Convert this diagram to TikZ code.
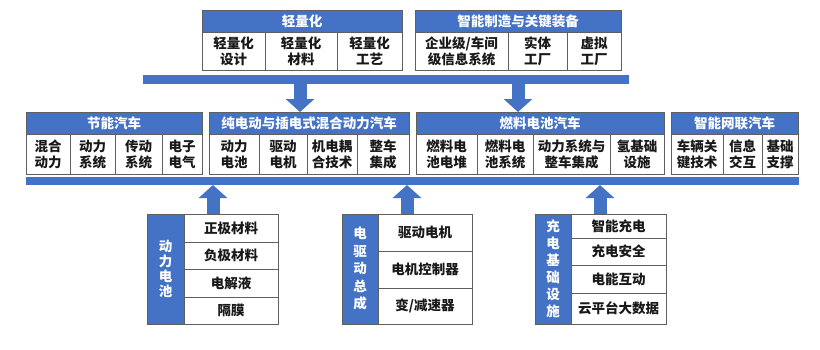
\documentclass[tikz,border=0pt]{standalone}
\usepackage{fontspec}
\newfontfamily\cjk{Noto Sans CJK SC}
\usetikzlibrary{arrows.meta,calc}
\definecolor{mblue}{HTML}{4472C4}
\definecolor{mgray}{HTML}{5F5F5F}
\tikzset{
 base/.style={draw=mgray, line width=0.9pt, inner sep=0pt, outer sep=0pt, align=center, rectangle},
 hdr/.style={base, fill=mblue, text=white, font=\cjk\bfseries\fontsize{13.5}{15}\selectfont},
 cell/.style={base, fill=white, text=black!90, font=\cjk\bfseries\fontsize{13.5}{16}\selectfont},
 sidecol/.style={base, fill=mblue, text=white, font=\cjk\bfseries\fontsize{13.5}{#1}\selectfont},
 bar/.style={fill=mblue, draw=none, inner sep=0pt, outer sep=0pt, rectangle},
 bigarrow/.style={draw=mblue, line width=13pt, -{Triangle[width=28pt,length=13pt]}},
}
\newcommand\boxat[7]{\node[#1, minimum width={(#5-#3)*1pt}, minimum height={(#6-#4)*1pt}] (#2) at ({(#3+#5)/2},{(#4+#6)/2}) {#7};}
\begin{document}
\begin{tikzpicture}[x=1pt,y=-1pt]
\fill[white] (0,0) rectangle (820,349);
\useasboundingbox (0,0) rectangle (820,349);
% top row
\boxat{hdr}{lwh}{202}{10}{402}{32}{轻量化}
\boxat{cell}{lw1}{202}{32}{265}{70}{轻量化\\设计}
\boxat{cell}{lw2}{265}{32}{337}{70}{轻量化\\材料}
\boxat{cell}{lw3}{337}{32}{402}{70}{轻量化\\工艺}
\boxat{hdr}{imh}{415}{10}{621}{32}{智能制造与关键装备}
\boxat{cell}{im1}{415}{32}{508}{70}{企业级/车间\\级信息系统}
\boxat{cell}{im2}{508}{32}{567}{70}{实体\\工厂}
\boxat{cell}{im3}{567}{32}{621}{70}{虚拟\\工厂}
% top bar
\boxat{bar}{topbar}{143}{75}{629}{84}{}
% middle row
\boxat{hdr}{jnh}{26}{112}{202}{134}{节能汽车}
\boxat{cell}{jn1}{26}{134}{70}{174}{混合\\动力}
\boxat{cell}{jn2}{70}{134}{115}{174}{动力\\系统}
\boxat{cell}{jn3}{115}{134}{162}{174}{传动\\系统}
\boxat{cell}{jn4}{162}{134}{202}{174}{电子\\电气}
\boxat{hdr}{evh}{209}{112}{409}{134}{纯电动与插电式混合动力汽车}
\boxat{cell}{ev1}{209}{134}{259}{174}{动力\\电池}
\boxat{cell}{ev2}{259}{134}{307}{174}{驱动\\电机}
\boxat{cell}{ev3}{307}{134}{357}{174}{机电耦\\合技术}
\boxat{cell}{ev4}{357}{134}{409}{174}{整车\\集成}
\boxat{hdr}{fch}{416}{112}{664}{134}{燃料电池汽车}
\boxat{cell}{fc1}{416}{134}{477}{174}{燃料电\\池电堆}
\boxat{cell}{fc2}{477}{134}{533}{174}{燃料电\\池系统}
\boxat{cell}{fc3}{533}{134}{610}{174}{动力系统与\\整车集成}
\boxat{cell}{fc4}{610}{134}{664}{174}{氢基础\\设施}
\boxat{hdr}{icvh}{671}{112}{798}{134}{智能网联汽车}
\boxat{cell}{icv1}{671}{134}{723}{174}{车辆关\\键技术}
\boxat{cell}{icv2}{723}{134}{762}{174}{信息\\交互}
\boxat{cell}{icv3}{762}{134}{798}{174}{基础\\支撑}
% bottom bar
\boxat{bar}{botbar}{26}{177}{799}{185}{}
% bottom groups
\boxat{sidecol=15}{bat}{147}{214}{184}{324}{动\\力\\电\\池}
\boxat{cell}{bat1}{184}{214}{278}{242}{正极材料}
\boxat{cell}{bat2}{184}{242}{278}{269}{负极材料}
\boxat{cell}{bat3}{184}{269}{278}{297}{电解液}
\boxat{cell}{bat4}{184}{297}{278}{324}{隔膜}
\boxat{sidecol=17.5}{edr}{342}{214}{378}{324}{电\\驱\\动\\总\\成}
\boxat{cell}{edr1}{378}{214}{472}{251}{驱动电机}
\boxat{cell}{edr2}{378}{251}{472}{288}{电机控制器}
\boxat{cell}{edr3}{378}{288}{472}{324}{变/减速器}
\boxat{sidecol=17}{chg}{535}{214}{571}{324}{充\\电\\基\\础\\设\\施}
\boxat{cell}{chg1}{571}{214}{666}{238}{智能充电}
\boxat{cell}{chg2}{571}{238}{666}{265}{充电安全}
\boxat{cell}{chg3}{571}{265}{666}{293}{电能互动}
\boxat{cell}{chg4}{571}{293}{666}{324}{云平台大数据}
% arrows
\coordinate (ax1) at (300,0);
\coordinate (ax2) at (518,0);
\coordinate (ax3) at (213,0);
\coordinate (ax4) at (407,0);
\coordinate (ax5) at (600,0);
\draw[bigarrow] (topbar.south -| ax1) -- (evh.north -| ax1);
\draw[bigarrow] (topbar.south -| ax2) -- (fch.north -| ax2);
\draw[bigarrow] (bat1.north -| ax3) -- (botbar.south -| ax3);
\draw[bigarrow] (edr1.north -| ax4) -- (botbar.south -| ax4);
\draw[bigarrow] (chg1.north -| ax5) -- (botbar.south -| ax5);
\end{tikzpicture}
\end{document}
